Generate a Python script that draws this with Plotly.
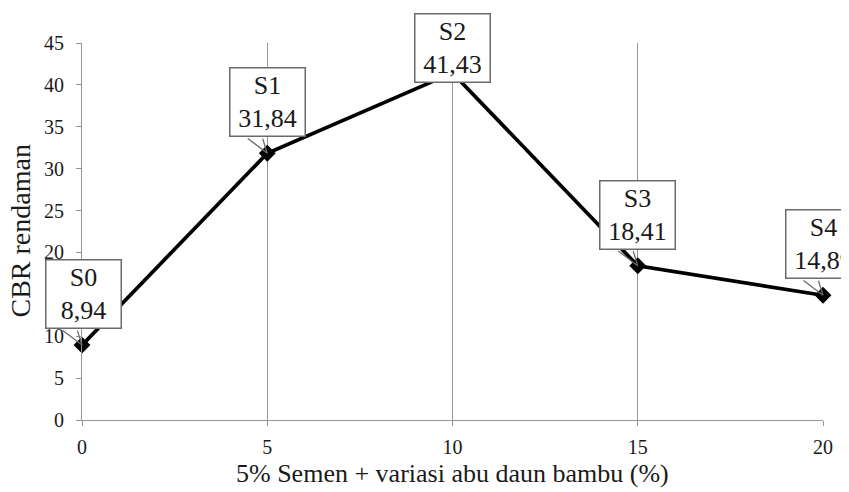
import plotly.graph_objects as go

# ---- data ----
x_vals = [0, 5, 10, 15, 20]
cbr_values = [8.94, 31.84, 41.43, 18.41, 14.89]
point_labels = ["S0", "S1", "S2", "S3", "S4"]
x_ticks = [0, 5, 10, 15, 20]
y_ticks = [0, 5, 10, 15, 20, 25, 30, 35, 40, 45]
x_title = "5% Semen + variasi abu daun bambu (%)"
y_title = "CBR rendaman"

FONT = "Liberation Serif"
GRID = "#959595"
BORDER = "#6b6b6b"
TEXT = "#1a1a1a"

fig = go.Figure()
fig.add_trace(go.Scatter(
    x=x_vals, y=cbr_values, mode="lines+markers",
    line=dict(color="black", width=3.7),
    marker=dict(symbol="diamond", size=13, color="black"),
    cliponaxis=False, showlegend=False, hoverinfo="skip",
))

# callout placement (pixel offsets from the data point)
box_dy = [-51, -51, -25, -51, -51]
box_dx = [1, 0, 0, 0, 0]
show_tail = [True, True, False, True, True]
tail_left, tail_right, tail_dy = -21, -5, -16

annotations = []
for xv, yv, lab, dy, dx, tail in zip(x_vals, cbr_values, point_labels, box_dy, box_dx, show_tail):
    txt = f"{lab}<br>{yv:.2f}".replace(".", ",")
    if tail:
        for tx in (tail_left, tail_right):
            annotations.append(dict(
                x=xv, y=yv, xref="x", yref="y", text="", showarrow=True,
                ax=tx, ay=tail_dy, axref="pixel", ayref="pixel",
                arrowhead=0, arrowwidth=1.3, arrowcolor=BORDER, standoff=0,
            ))
    annotations.append(dict(
        x=xv, y=yv, xref="x", yref="y", text=txt, showarrow=True,
        ax=dx, ay=dy, axref="pixel", ayref="pixel",
        arrowwidth=0.1, arrowcolor="rgba(0,0,0,0)",
        font=dict(family=FONT, size=26, color=TEXT),
        bgcolor="white", bordercolor=BORDER, borderwidth=1.5, borderpad=0,
        width=74, height=67, align="center", valign="middle",
    ))

# axis titles placed as paper annotations
annotations.append(dict(
    x=0, y=0.5, xref="paper", yref="paper", xanchor="center", yanchor="middle",
    xshift=-62, text=y_title, textangle=-90, showarrow=False,
    font=dict(family=FONT, size=28, color=TEXT),
))
annotations.append(dict(
    x=0.5, y=0, xref="paper", yref="paper", xanchor="center", yanchor="middle",
    yshift=-53, text=x_title, showarrow=False,
    font=dict(family=FONT, size=26, color=TEXT),
))

fig.update_layout(
    width=849, height=492,
    margin=dict(l=74, r=34, t=35, b=80),
    paper_bgcolor="white", plot_bgcolor="white",
    font=dict(family=FONT, color=TEXT),
    annotations=annotations,
    xaxis=dict(
        range=[0, 20], tickvals=x_ticks, showgrid=True, gridcolor=GRID, gridwidth=1,
        showline=True, linecolor=GRID, linewidth=1, ticks="outside", ticklen=5,
        tickcolor=GRID, zeroline=False, tickfont=dict(size=20), automargin=False,
        ticklabelstandoff=4,
    ),
    yaxis=dict(
        range=[0, 45], tickvals=y_ticks, showgrid=False, automargin=False,
        showline=True, linecolor=GRID, linewidth=1, ticks="outside", ticklen=5,
        tickcolor=GRID, zeroline=False, tickfont=dict(size=20),
        ticklabelstandoff=8,
    ),
)

fig.write_html("out.html")
